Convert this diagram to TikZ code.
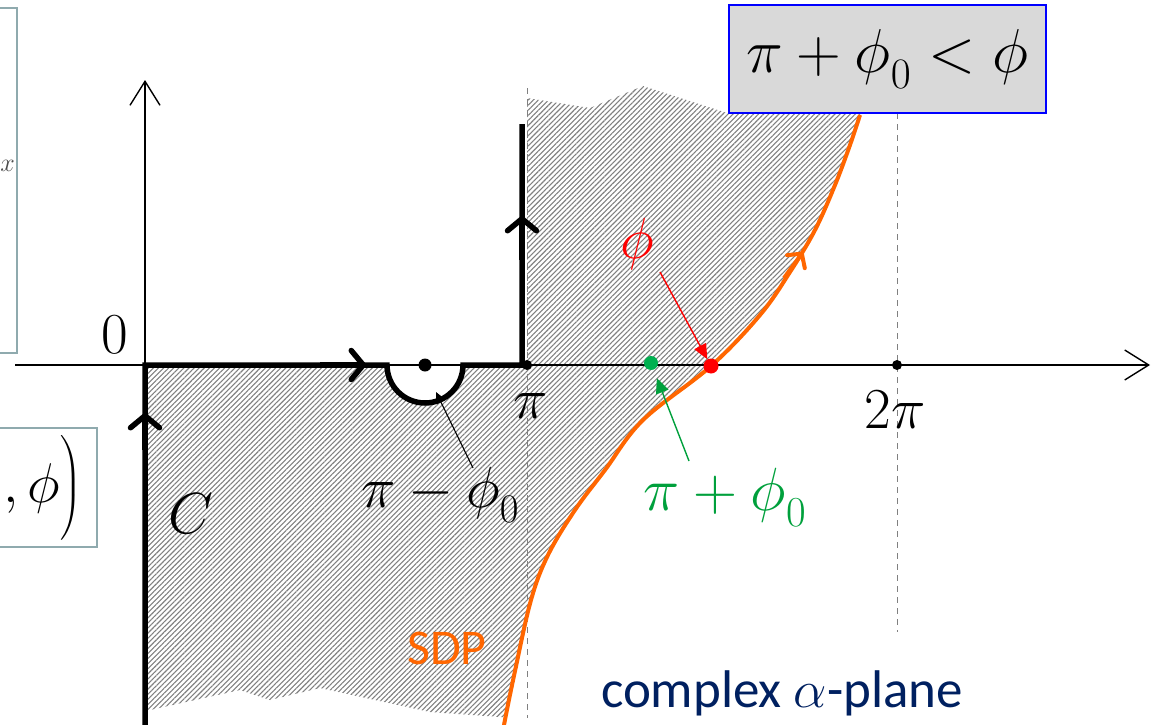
\RequirePackage{fix-cm}
\documentclass[tikz,border=0pt]{standalone}
\usepackage{amsmath}
\usepackage{fontspec}
\newfontfamily\calibri{Carlito}
\usetikzlibrary{arrows.meta,patterns.meta}
\definecolor{boxedge}{RGB}{143,170,174}
\definecolor{sdporange}{RGB}{255,102,0}
\definecolor{navyblue}{RGB}{0,32,96}
\definecolor{dotgreen}{RGB}{0,176,80}
\definecolor{txtgreen}{RGB}{0,160,60}
\definecolor{boxgray}{RGB}{217,217,217}
\newcommand{\lowzero}{_{\raisebox{-0.12em}{$\scriptstyle 0$}}}
\tikzset{
  axisline/.style={line width=1.4pt,-{Straight Barb[length=24pt,width=30pt]}},
  contour/.style={line width=5.5pt,line join=miter},
  cbarb/.style={line width=5.5pt,-{Straight Barb[length=12pt,width=29pt,round]}},
  dashline/.style={gray,line width=1pt,dash pattern=on 6pt off 5pt},
  mathlbl/.style={inner sep=0pt,font=\fontsize{58}{64}\selectfont},
  dotnode/.style={circle,inner sep=0pt,minimum size=#1},
  sdp/.style={sdporange,line width=4pt},
  hatch/.style={pattern={Lines[angle=45,distance=3.6pt,line width=1.1pt]},pattern color=gray}
}
\begin{document}
\begin{tikzpicture}[x=1pt,y=-1pt]
\useasboundingbox (0,0) rectangle (1156,725);
% hatched region left of the SDP
\begin{scope}
\clip plot[smooth,tension=0.6] coordinates {(502,740) (504,725) (515,671) (531,600) (548,555) (575,510) (605,470) (643,420) (711,366) (760,315) (790,272) (815,230) (835,185) (850,145) (860,115) (864,95)} -- (864,0) -- (0,0) -- (0,740) -- cycle;
\fill[hatch] (145,365) -- (527,365) -- (527,98) -- (590,108) -- (643,86) -- (727,113) -- (950,113) -- (950,717) -- (500,717) -- (430,712) -- (320,688) -- (270,700) -- (240,690) -- (150,710) -- (145,710) -- cycle;
\end{scope}
% white half disc of the indentation
\fill[white] (387,365) arc[start angle=180,end angle=360,radius=38pt] -- cycle;
% dashed guides
\coordinate (dpiT) at (527,88);
\coordinate (dpiB) at (527,718);
\coordinate (dtwoT) at (897,113);
\coordinate (dtwoB) at (897,632);
\draw[dashline] (dpiT) -- (dpiB);
\draw[dashline] (dtwoT) -- (dtwoB);
% axes
\coordinate (xL) at (15,365);
\coordinate (xR) at (1150,365);
\coordinate (yO) at (145,365);
\coordinate (yT) at (145,80);
\draw[axisline] (xL) -- (xR);
\draw[axisline] (yO) -- (yT);
% contour C
\coordinate (c0) at (145,725);
\coordinate (c1) at (145,365);
\coordinate (c2) at (387,365);
\coordinate (c3) at (522,365);
\coordinate (c4) at (522,124);
\draw[contour] (c0) -- (c1) -- (c2) arc[start angle=180,end angle=360,radius=38pt] -- (c3) -- (c4);
\coordinate (a1s) at (145,450);
\coordinate (a1t) at (145,413);
\coordinate (a2s) at (320,365);
\coordinate (a2t) at (366,365);
\coordinate (a3s) at (522,260);
\coordinate (a3t) at (522,216);
\draw[cbarb] (a1s) -- (a1t);
\draw[cbarb] (a2s) -- (a2t);
\draw[cbarb] (a3s) -- (a3t);
% SDP curve
\draw[sdp] plot[smooth,tension=0.6] coordinates {(502,740) (504,725) (515,671) (531,600) (548,555) (575,510) (605,470) (643,420) (711,366) (760,315) (790,272) (815,230) (835,185) (850,145) (860,115)};
\coordinate (o1) at (784,278);
\coordinate (o2) at (803,252);
\draw[sdporange,line width=4pt,-{Straight Barb[length=10pt,width=22pt,round]}] (o1) -- (o2);
% dots
\node[dotnode=13pt,fill=black] (cdot) at (425,365) {};
\node[dotnode=10pt,fill=black] (pidot) at (527,365) {};
\node[dotnode=10pt,fill=black] (twopidot) at (897,365) {};
\node[dotnode=14pt,fill=dotgreen] (gdot) at (651,363) {};
\node[dotnode=15pt,fill=red] (rdot) at (711,366) {};
% labels
\node[mathlbl,anchor=base] (zero) at (115,353) {$0$};
\node[mathlbl,anchor=base] (pilbl) at (531,418) {$\pi$};
\node[mathlbl,anchor=base] (twopi) at (895,428) {$2\pi$};
\node[mathlbl,anchor=base] (C) at (191,533) {$C$};
\node[mathlbl,anchor=base] (pimphi) at (440,507) {$\pi-\phi\lowzero$};
\node[mathlbl,anchor=base,text=red] (philbl) at (637,258) {$\phi$};
\node[mathlbl,anchor=base,text=txtgreen,font=\fontsize{61}{66}\selectfont] (pipphi) at (725,510) {$\pi+\phi\lowzero$};
\node[inner sep=0pt,anchor=base,text=sdporange,font=\calibri\fontsize{50}{55}\selectfont] (sdplbl) at (447,664) {SDP};
\node[inner sep=0pt,anchor=base,text=navyblue,font=\calibri\fontsize{53}{58}\selectfont] (plane) at (782,707) {complex $\alpha$-plane};
% pointers
\coordinate (ps) at (473,468);
\coordinate (sc) at (436,392);
\draw[line width=1.1pt,-{Triangle[length=11pt,width=10pt]}] (ps) -- (sc);
\coordinate (rs) at (660,272);
\draw[red,line width=1.4pt,-{Triangle[length=15pt,width=13pt]}] (rs) -- (rdot);
\coordinate (gs) at (689,461);
\draw[txtgreen,line width=1.4pt,shorten >=9pt,-{Triangle[length=15pt,width=13pt]}] (gs) -- (gdot);
% boxes
\node[draw=blue,line width=1.5pt,fill=boxgray,minimum width=317pt,minimum height=108pt,inner sep=0pt,font=\fontsize{62}{68}\selectfont] (cond) at (887.5,59) {$\pi+\phi\lowzero<\phi$};
\draw[boxedge,line width=1.2pt] (-5,8) rectangle (17,353);
\node[inner sep=0pt,anchor=base east,text=gray!60!black,font=\fontsize{26}{28}\selectfont] (xlbl) at (15,171) {$x$};
\draw[boxedge,line width=1.2pt] (-5,428) rectangle (97,547);
\node[inner sep=0pt,anchor=base east,font=\fontsize{56}{62}\selectfont] (argl) at (82,502) {$,\phi\Big)$};
\end{tikzpicture}
\end{document}
